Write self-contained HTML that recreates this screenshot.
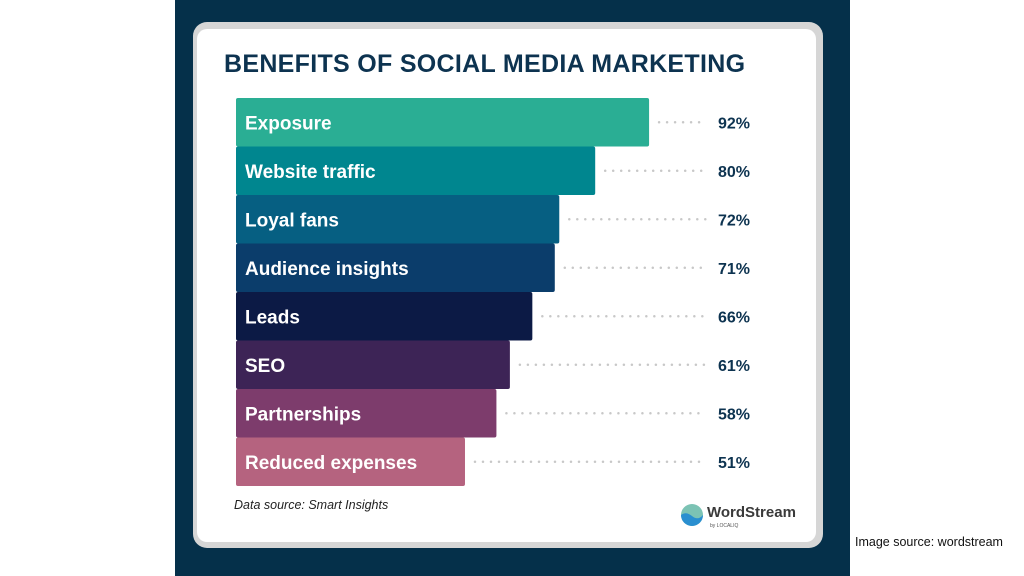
<!DOCTYPE html>
<html><head><meta charset="utf-8"><style>
body{margin:0;width:1024px;height:576px;background:#fff;position:relative;overflow:hidden;font-family:"Liberation Sans",sans-serif}
#panel{position:absolute;left:175px;top:0;width:675px;height:576px;background:#05304a}
#card{position:absolute;left:193px;top:22px;width:630px;height:526px;background:#d6d6d6;border-radius:14px}
#inner{position:absolute;left:197px;top:29px;width:619px;height:513px;background:#fff;border-radius:10px}
#title{position:absolute;left:224px;top:50px;font-size:25px;font-weight:bold;color:#0d3350;letter-spacing:0.3px;white-space:nowrap}
#src{position:absolute;left:234px;top:498px;font-size:12.5px;font-style:italic;color:#222}
#imgsrc{position:absolute;left:855px;top:535px;font-size:12.5px;color:#111}
#logo{position:absolute;left:680px;top:502px}
</style></head><body>
<div id="panel"></div>
<div id="card"></div>
<div id="inner"></div>
<div id="title">BENEFITS OF SOCIAL MEDIA MARKETING</div>
<svg id="chart" width="1024" height="576" style="position:absolute;left:0;top:0"></svg>
<div id="src">Data source: Smart Insights</div>
<div id="logo">
<svg width="125" height="28"><circle cx="12" cy="13" r="11" fill="#7cc3b4"/><path d="M1 13 Q6 9 12 14 Q18 19 23 13 A11 11 0 0 1 1 13Z" fill="#2a8fd0"/><text x="27" y="15" font-family="Liberation Sans" font-weight="bold" font-size="15" fill="#3a3a3a">WordStream</text><text x="30" y="25" font-family="Liberation Sans" font-size="5" fill="#555">by LOCALIQ</text></svg>
</div>
<div id="imgsrc">Image source: wordstream</div>
<script>
const categories=["Exposure","Website traffic","Loyal fans","Audience insights","Leads","SEO","Partnerships","Reduced expenses"];
const values=[92,80,72,71,66,61,58,51];
const valueLabels=["92%","80%","72%","71%","66%","61%","58%","51%"];
const colors=["#2aae94","#00868f","#065f82","#0b3d6b","#0c1a45","#3d2456","#7d3c6c","#b5637f"];
const x0=236,pxPer=4.49,y0=98,step=48.5,bh=48.5;
const xs=v=>x0+v*pxPer;
const ys=i=>y0+i*step;
const svg=document.getElementById('chart');
const NS="http://www.w3.org/2000/svg";
categories.forEach((c,i)=>{
 const y=ys(i),w=xs(values[i])-x0;
 const r=document.createElementNS(NS,'rect');
 r.setAttribute('x',x0);r.setAttribute('y',y);r.setAttribute('width',w);r.setAttribute('height',bh);
 r.setAttribute('rx',2);r.setAttribute('fill',colors[i]);
 
 
 svg.appendChild(r);
 const cy=y+bh/2;
 const l=document.createElementNS(NS,'line');
 l.setAttribute('x1',xs(values[i])+10);l.setAttribute('x2',706);l.setAttribute('y1',cy);l.setAttribute('y2',cy);
 l.setAttribute('stroke','#c8c8c8');l.setAttribute('stroke-width',2.5);l.setAttribute('stroke-dasharray','0 8');l.setAttribute('stroke-linecap','round');
 
 
 svg.appendChild(l);
 const t=document.createElementNS(NS,'text');
 t.setAttribute('x',245);t.setAttribute('y',cy+7);t.setAttribute('fill','#fff');
 t.setAttribute('font-size','19');t.setAttribute('font-weight','bold');t.setAttribute('font-family','Liberation Sans');
 t.textContent=c;
 
 
 svg.appendChild(t);
 const v=document.createElementNS(NS,'text');
 v.setAttribute('x',718);v.setAttribute('y',cy+6);v.setAttribute('fill','#0d3350');
 v.setAttribute('font-size','16');v.setAttribute('font-weight','bold');v.setAttribute('font-family','Liberation Sans');
 v.textContent=valueLabels[i];
 
 
 svg.appendChild(v);
});
</script>
</body></html>
